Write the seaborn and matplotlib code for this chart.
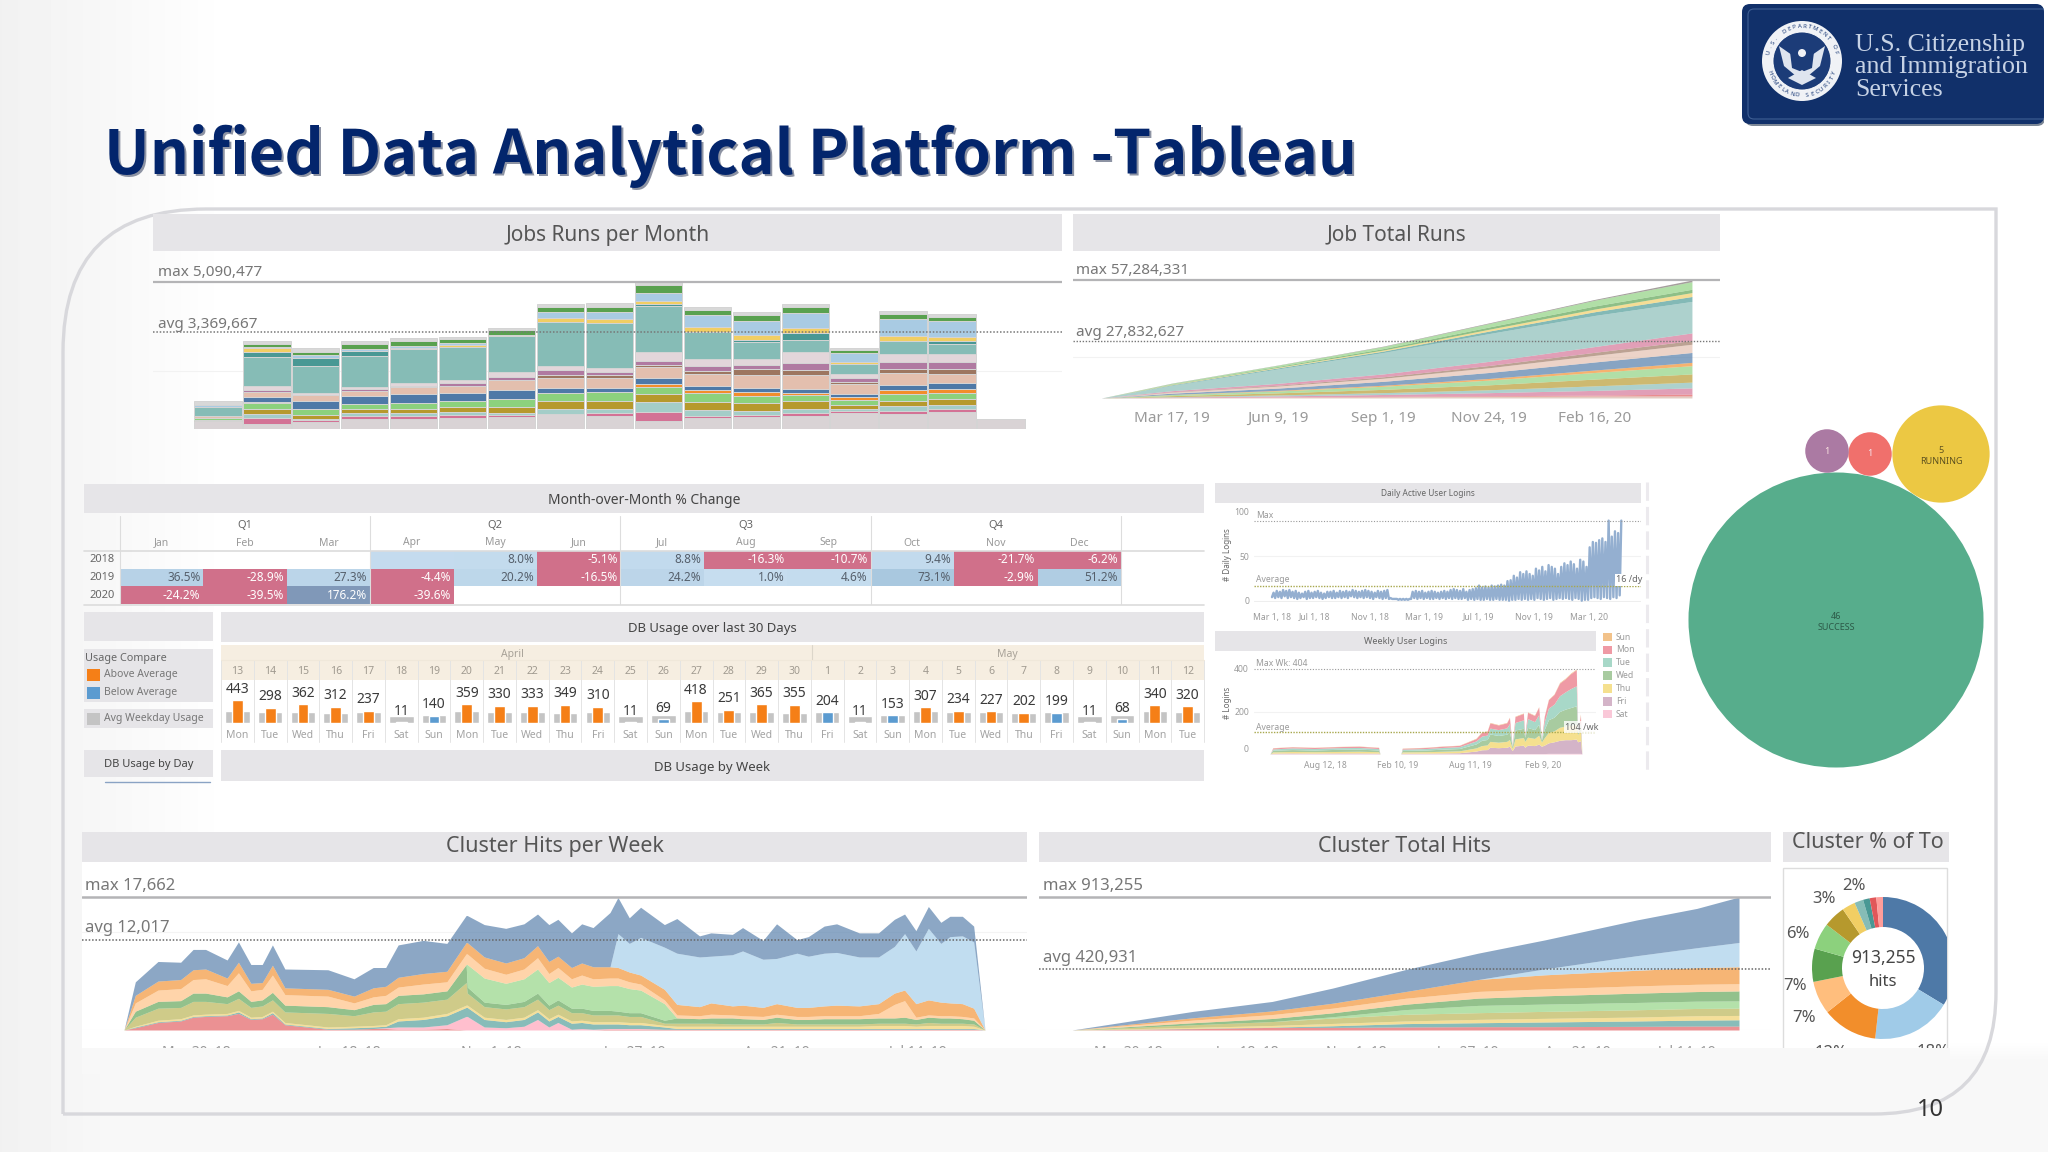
import numpy as np
import pandas as pd
import seaborn as sns
import matplotlib.pyplot as plt
from matplotlib.colors import LinearSegmentedColormap
from matplotlib.patches import Rectangle, FancyBboxPatch, Circle, PathPatch, Polygon
from matplotlib.path import Path

W, H = 2048, 1152

# ---- Jobs Runs per Month : one row per month, unit is about 11.7k runs
job_layers = ["base", "pink", "teal_l", "gold", "l_green", "orange", "blue", "peach", "brown",
              "purple", "pink_gray", "teal", "d_teal", "yellow", "l_blue", "green", "cap"]
job_rows = [
    [24, 0, 0, 4, 6, 0, 0, 6, 0, 0, 0, 24, 0, 0, 8, 0, 11],
    [16, 16, 12, 16, 16, 4, 16, 14, 0, 6, 12, 85, 16, 10, 4, 9, 9],
    [20, 6, 4, 12, 18, 0, 24, 16, 0, 0, 8, 80, 24, 0, 6, 10, 13],
    [30, 8, 8, 12, 16, 0, 24, 16, 0, 4, 8, 90, 16, 0, 6, 14, 9],
    [30, 8, 8, 14, 18, 0, 26, 20, 0, 4, 8, 100, 0, 4, 6, 16, 7],
    [34, 8, 8, 14, 20, 0, 22, 22, 0, 8, 8, 98, 0, 8, 6, 10, 7],
    [35, 8, 5, 16, 25, 0, 28, 28, 0, 10, 15, 105, 0, 4, 0, 14, 8],
    [45, 0, 14, 24, 25, 0, 14, 28, 10, 14, 14, 130, 0, 10, 20, 14, 8],
    [40, 6, 14, 24, 26, 0, 12, 30, 8, 10, 10, 135, 0, 12, 20, 15, 11],
    [25, 26, 28, 24, 22, 8, 18, 32, 8, 10, 28, 135, 6, 10, 22, 26, 8],
    [33, 6, 16, 26, 26, 8, 14, 34, 10, 14, 20, 80, 0, 16, 34, 16, 8],
    [35, 6, 12, 24, 22, 10, 14, 38, 16, 14, 16, 50, 8, 14, 42, 16, 9],
    [40, 8, 10, 24, 18, 6, 14, 40, 16, 20, 32, 35, 22, 14, 44, 18, 9],
    [48, 4, 8, 10, 16, 10, 8, 28, 6, 14, 10, 30, 0, 8, 24, 9, 8],
    [45, 8, 14, 16, 22, 10, 16, 36, 12, 20, 22, 40, 0, 14, 50, 16, 8],
    [50, 8, 12, 18, 18, 14, 16, 28, 14, 20, 23, 30, 10, 12, 48, 12, 8],
    [31, 0, 0, 0, 0, 0, 0, 0, 0, 0, 0, 0, 0, 0, 0, 0, 0],
]
job_colors = ["#d9d3d5", "#d37295", "#a4cdc8", "#b6992d", "#8cd17d", "#f28e2b", "#4e79a7", "#e3bfae", "#9d7660",
              "#b07aa1", "#e2d6da", "#86bcb6", "#499894", "#f1ce63", "#a9cbe3", "#59a14f", "#d8d8d8"]
JOB_UNIT = 5090477 / 436

# ---- Job Total Runs : weeks since Mar 17 2019, values in million runs
total_weeks = [-8, 0, 12, 24, 36, 48, 59]
total_tick_weeks = [0, 12, 24, 36, 48]
total_tick_labels = ["Mar 17, 19", "Jun 9, 19", "Sep 1, 19", "Nov 24, 19", "Feb 16, 20"]
total_layers = [
    [0, .2, .4, .6, .8, 1.0, 1.0],
    [0, .05, .1, .2, .3, .4, .9],
    [0, .2, .5, .9, 1.5, 2.3, 3.0],
    [0, .2, .5, .9, 1.4, 2.2, 2.8],
    [0, .5, 1, 1.6, 2.4, 3.3, 4.0],
    [0, .5, .9, 1.5, 2.3, 3.2, 4.0],
    [0, .1, .3, .5, .8, 1.2, 1.6],
    [0, .6, 1.1, 1.9, 2.9, 3.9, 4.8],
    [0, .5, 1, 1.5, 2.3, 3.2, 4.0],
    [0, .2, .4, .7, 1.1, 1.5, 1.8],
    [0, .5, .9, 1.4, 2, 2.8, 3.7],
    [0, 2.6, 7.0, 10.4, 13.5, 15.1, 15.28],
    [0, .3, .5, .7, 1.2, 1.8, 2.4],
    [0, .2, .3, .5, .9, 1.3, 1.9],
    [0, .2, .4, .7, 1.1, 1.5, 1.6],
    [0, .3, .6, 1, 1.7, 2.8, 3.7],
    [0, .1, .1, .2, .3, .4, .8],
]
total_colors = ["#d7b5a6", "#e15759", "#d37295", "#86bcb6", "#b6992d", "#8cd17d", "#f28e2b", "#4e79a7", "#e3bfae",
                "#9d7660", "#d37295", "#86bcb6", "#499894", "#f1ce63", "#59a14f", "#8cd17d", "#79706e"]

# ---- Month-over-Month % Change
mom_months = ["Jan", "Feb", "Mar", "Apr", "May", "Jun", "Jul", "Aug", "Sep", "Oct", "Nov", "Dec"]
mom_quarters = ["Q1", "Q2", "Q3", "Q4"]
mom_years = ["2018", "2019", "2020"]
mom_2018 = [np.nan, np.nan, np.nan, 5.0, 8.0, -5.1, 8.8, -16.3, -10.7, 9.4, -21.7, -6.2]
mom_2019 = [36.5, -28.9, 27.3, -4.4, 20.2, -16.5, 24.2, 1.0, 4.6, 73.1, -2.9, 51.2]
mom_2020 = [-24.2, -39.5, 176.2, -39.6] + [np.nan] * 8

# ---- DB Usage over last 30 Days
db_days = [13, 14, 15, 16, 17, 18, 19, 20, 21, 22, 23, 24, 25, 26, 27, 28, 29, 30,
           1, 2, 3, 4, 5, 6, 7, 8, 9, 10, 11, 12]
db_weekdays = ["Mon", "Tue", "Wed", "Thu", "Fri", "Sat", "Sun", "Mon", "Tue", "Wed", "Thu", "Fri", "Sat", "Sun", "Mon",
               "Tue", "Wed", "Thu", "Fri", "Sat", "Sun", "Mon", "Tue", "Wed", "Thu", "Fri", "Sat", "Sun", "Mon", "Tue"]
db_usage = [443, 298, 362, 312, 237, 11, 140, 359, 330, 333, 349, 310, 11, 69, 418, 251, 365, 355,
            204, 11, 153, 307, 234, 227, 202, 199, 11, 68, 340, 320]
db_weekday_avg = {"Mon": 230, "Tue": 215, "Wed": 215, "Thu": 200, "Fri": 215, "Sat": 130, "Sun": 155}

# ---- Daily Active User Logins : weekly highs and lows from Mar 2018
daily_high = [9, 11, 10, 12, 11, 12, 10, 11, 9, 8, 10, 11, 9, 10, 11, 9, 8, 10, 10, 11, 9, 11, 10, 11, 10, 12, 11, 10,
              11, 12, 11, 10, 9, 11, 10, 11, 12,
              3, 2, 2, 2, 2, 2, 2,
              10, 11, 10, 11, 9, 10, 11, 10, 9, 10, 11, 10, 12, 13, 12, 11, 13, 10, 12, 13,
              14, 17, 15, 16, 15, 17, 16, 17, 18, 17, 22,
              23, 28, 26, 32, 30, 33, 30, 28, 36, 34, 38, 33,
              40, 38, 36, 30, 38, 42, 40, 44, 41, 36, 46, 44, 38,
              60, 66, 65, 68, 70, 66, 90, 72, 78, 76, 90]
daily_low = [4, 3, 4, 3, 5, 3, 4, 3, 2, 3, 4, 2, 3, 3, 4, 3, 2, 3, 4, 3, 3, 4, 3, 4, 3, 5, 4, 3,
             4, 3, 4, 3, 2, 4, 3, 2, 3,
             2, 2, 2, 1, 1, 1, 1,
             2, 3, 2, 3, 2, 3, 2, 2, 3, 2, 3, 2, 3, 2, 3, 2, 2, 3, 1, 2,
             1, 2, 1, 1, 2, 1, 1, 2, 1, 1, 1,
             0, 1, 1, 2, 1, 2, 1, 2, 1, 3, 2, 1,
             2, 3, 1, 2, 3, 2, 3, 2, 1, 3, 2, 0, 1,
             1, 3, 4, 3, 2, 4, 3, 2, 4, 3, 6]
daily_ticks = [29, 122, 245, 365, 487, 610, 731]
daily_tick_labels = ["Mar 1, 18", "Jul 1, 18", "Nov 1, 18", "Mar 1, 19", "Jul 1, 19", "Nov 1, 19", "Mar 1, 20"]

# ---- Weekly User Logins : weeks from late Mar 2018
weekly_x = [0, 1, 8, 16, 24, 32, 39, 39.5, 47, 47.5, 56, 62, 68, 74, 76, 78, 79, 82, 85, 86, 87, 88, 91, 91.5,
            92.5, 95, 96.5, 97.5, 98.5, 100, 102, 104, 106, 108, 110, 110.5, 111.5, 112]
weekly_rows = [  # Sat Fri Thu Wed Tue Mon Sun
    [0, 0, 0, 0, 0, 0, 0], [1, 3, 6, 8, 6, 5, 1], [1, 4, 7, 9, 8, 5, 1], [1, 3, 7, 8, 7, 5, 1], [1, 4, 7, 10, 8, 5, 1],
    [1, 4, 8, 10, 8, 6, 1], [1, 3, 7, 8, 7, 5, 1], [0, 0, 0, 0, 0, 0, 0], [0, 0, 0, 0, 0, 0, 0], [1, 3, 6, 7, 6, 4, 1],
    [1, 3, 7, 8, 7, 5, 1], [1, 4, 8, 10, 8, 6, 1], [1, 5, 9, 11, 9, 6, 1], [2, 12, 15, 19, 14, 11, 2],
    [2, 18, 20, 25, 20, 18, 2], [2, 19, 22, 26, 21, 18, 2], [2, 30, 28, 35, 28, 25, 2], [2, 28, 26, 32, 28, 22, 2],
    [2, 30, 28, 34, 30, 24, 2], [2, 35, 32, 40, 35, 29, 2], [1, 15, 10, 8, 3, 2, 1], [2, 36, 34, 42, 36, 28, 2],
    [2, 40, 36, 44, 40, 31, 2], [2, 30, 28, 20, 6, 3, 1], [2, 40, 38, 46, 42, 30, 2], [2, 38, 34, 42, 38, 29, 2],
    [2, 45, 42, 52, 46, 36, 2], [2, 35, 20, 8, 3, 1, 1], [2, 40, 35, 40, 35, 26, 2], [3, 50, 50, 60, 55, 40, 2],
    [3, 55, 52, 65, 62, 46, 2], [3, 62, 62, 75, 75, 60, 3], [3, 65, 65, 80, 82, 62, 3], [3, 65, 68, 85, 90, 71, 3],
    [3, 68, 70, 88, 95, 77, 3], [3, 55, 35, 5, 1, 1, 0], [3, 60, 50, 25, 12, 35, 5], [0, 0, 0, 0, 0, 0, 0],
]
weekly_colors = ["#fac8d8", "#d4b4c8", "#f5e08f", "#a8cba0", "#a8d8c8", "#ef9aa5", "#f2c28a"]
weekly_legend = ["Sun", "Mon", "Tue", "Wed", "Thu", "Fri", "Sat"]
weekly_legend_colors = weekly_colors[::-1]
weekly_ticks = [20, 46, 72, 98]
weekly_tick_labels = ["Aug 12, 18", "Feb 10, 19", "Aug 11, 19", "Feb 9, 20"]

# ---- job status bubbles
bubble_count = [46, 5, 1, 1]
bubble_label = ["46\nSUCCESS", "5\nRUNNING", "1", "1"]
bubble_colors = ["#57ad8c", "#ecc843", "#f0706c", "#ab7aa3"]

# ---- Cluster Hits per Week : hundreds of hits
cluster_weeks = [0, 1, 3, 5, 6.1, 7.2, 9.1, 10.1, 11.2, 12.2, 13.1, 14.2, 18, 20.3, 22, 23.1, 24.2, 26.4, 28.5, 30.2, 30.3,
                 31.8, 33.7, 35.3, 36.5, 37.5, 38.3, 39.5, 40.4, 41.4, 42.9, 43.6, 44.6, 45.6, 47.7, 48.8, 50.8, 51.8, 53.7,
                 54.6, 56.4, 57.6, 59.4, 60.4, 61.8, 62.9, 64.9, 66.6, 68, 68.9, 69.9, 71, 72.1, 72.9, 74, 75, 76]
cluster_rows = [  # red pink teal yellow gold green l_green peach orange l_blue blue
    [0, 0, 0, 0, 0, 0, 0, 0, 0, 0, 0], [3, 0, 1, 1, 12, 8, 0, 11, 10, 0, 18], [10, 0, 1, 2, 16, 9, 0, 15, 12, 0, 26],
    [12, 0, 1, 2, 15, 9, 0, 16, 12, 0, 23], [17, 0, 1, 2, 18, 11, 0, 18, 13, 0, 27], [18, 0, 1, 2, 17, 11, 0, 19, 13, 0, 26],
    [19, 0, 1, 2, 13, 9, 0, 15, 10, 0, 24], [22, 0, 2, 2, 16, 10, 0, 24, 14, 0, 27], [14, 0, 1, 2, 13, 8, 0, 14, 10, 0, 25],
    [15, 0, 1, 2, 14, 8, 0, 14, 9, 0, 24], [21, 0, 2, 2, 15, 10, 0, 23, 13, 0, 27], [7, 0, 1, 2, 14, 9, 0, 14, 9, 0, 25],
    [1, 0, 1, 2, 18, 9, 0, 14, 9, 0, 26], [1, 0, 2, 2, 14, 8, 0, 9, 9, 0, 23], [2, 0, 2, 2, 18, 10, 0, 10, 12, 0, 27],
    [2, 1, 2, 2, 18, 10, 0, 11, 12, 0, 25], [1, 3, 8, 3, 20, 11, 0, 11, 13, 0, 43], [1, 3, 10, 3, 20, 11, 0, 13, 14, 0, 44],
    [2, 5, 12, 3, 19, 11, 0, 12, 14, 0, 37], [0, 18, 12, 3, 30, 24, 0, 14, 15, 0, 36], [0, 18, 12, 3, 16, 8, 30, 14, 15, 0, 36],
    [0, 4, 10, 3, 14, 6, 32, 13, 15, 0, 43],
    [0, 3, 8, 3, 14, 6, 28, 12, 15, 0, 46], [0, 5, 9, 3, 14, 7, 30, 13, 15, 0, 45], [0, 14, 10, 3, 14, 8, 32, 15, 16, 0, 42],
    [0, 4, 8, 3, 12, 6, 30, 12, 16, 0, 49], [0, 10, 8, 3, 12, 7, 30, 13, 15, 0, 49], [0, 1, 8, 3, 11, 6, 28, 11, 15, 0, 46],
    [0, 2, 8, 3, 10, 6, 32, 12, 16, 0, 52], [0, 1, 7, 3, 9, 6, 32, 10, 16, 0, 52], [1, 1, 6, 3, 9, 6, 33, 10, 15, 0, 72],
    [1, 1, 6, 3, 9, 5, 34, 10, 14, 45, 48],
    [1, 1, 5, 3, 8, 5, 32, 9, 13, 38, 34], [1, 1, 5, 3, 8, 5, 30, 8, 12, 50, 40], [1, 0, 3, 2, 3, 4, 22, 5, 14, 56, 30],
    [1, 0, 1, 3, 4, 7, 0, 4, 14, 68, 46], [1, 0, 1, 3, 4, 6, 0, 4, 12, 66, 28], [1, 0, 1, 3, 4, 7, 0, 5, 15, 62, 31],
    [1, 0, 1, 3, 3, 8, 0, 4, 12, 68, 27], [1, 0, 1, 3, 3, 7, 0, 4, 14, 72, 31], [1, 0, 1, 3, 3, 6, 0, 4, 12, 64, 25],
    [1, 0, 1, 3, 5, 7, 0, 4, 14, 60, 46], [1, 0, 1, 3, 3, 6, 0, 4, 12, 72, 18], [1, 0, 1, 3, 3, 6, 0, 4, 12, 68, 26],
    [1, 0, 1, 3, 3, 7, 0, 4, 13, 70, 36], [1, 0, 1, 3, 3, 7, 0, 4, 14, 70, 38], [1, 0, 1, 3, 3, 7, 0, 4, 13, 65, 32],
    [1, 0, 1, 4, 3, 7, 0, 6, 13, 62, 32], [1, 0, 1, 4, 3, 7, 0, 18, 15, 62, 36], [1, 0, 1, 4, 3, 8, 0, 22, 14, 75, 26],
    [1, 0, 1, 3, 3, 6, 0, 3, 18, 70, 27], [1, 0, 1, 4, 4, 7, 0, 3, 20, 95, 29], [1, 0, 1, 4, 3, 7, 0, 3, 18, 78, 28],
    [1, 0, 1, 4, 3, 7, 0, 3, 17, 88, 27], [1, 0, 1, 4, 3, 6, 0, 3, 17, 90, 26], [1, 0, 1, 3, 3, 5, 0, 3, 13, 88, 21],
    [0, 0, 0, 0, 0, 0, 0, 0, 0, 0, 0],
]
cluster_colors = ["#e15759", "#ff9db5", "#499894", "#f1ce63", "#b6b04a", "#59a14f", "#8cd17d", "#ffbe7d", "#f28e2b",
                  "#a0cbe8", "#4e79a7"]
cluster_tick_x = [6.4, 19.9, 32.4, 45.1, 57.6, 70]
cluster_tick_labels = ["Mar 30, 18", "Jun 18, 18", "Nov 1, 18", "Jan 27, 19", "Apr 21, 19", "Jul 14, 19"]

# ---- Cluster Total Hits : thousands of hits
cluster_total_weeks = [0, 13.8, 22.8, 29.7, 38, 46.3, 53.9, 64.3, 71.2, 76]
cluster_total_rows = [  # red teal yellow gold l_green green peach orange l_blue blue
    [0, 0, 0, 0, 0, 0, 0, 0, 0, 0], [9, 2, 7, 18, 0, 14, 18, 16, 0, 44], [18, 2, 11, 27, 0, 21, 27, 25, 0, 65],
    [18, 11, 16, 37, 9, 27, 32, 34, 0, 104], [21, 23, 18, 46, 32, 37, 41, 46, 0, 151], [23, 27, 23, 46, 50, 50, 46, 82, 0, 181],
    [23, 32, 25, 48, 50, 57, 48, 96, 41, 199], [25, 37, 27, 50, 50, 64, 50, 107, 100, 245], [27, 41, 30, 50, 50, 66, 50, 114, 137, 270],
    [27, 43, 30, 50, 50, 68, 50, 116, 167, 312.255],
]
cluster_total_colors = ["#e15759", "#499894", "#f1ce63", "#b6b04a", "#8cd17d", "#59a14f", "#ffbe7d", "#f28e2b", "#a0cbe8", "#4e79a7"]

# ---- Cluster % of Total
donut_share = [33.5, 18, 12.5, 7.5, 7.5, 6, 5, 3, 2, 1.5, 1.5, 1.5]
donut_colors = ["#4e79a7", "#a0cbe8", "#f28e2b", "#ffbe7d", "#59a14f", "#8cd17d", "#b6992d", "#f1ce63", "#86bcb6",
                "#499894", "#e15759", "#ff9d9a"]

BAND = "#e6e5e8"
TXT = "#555555"
TICK = "#9a9a9a"

sns.set_theme(style="white")
plt.rcParams["font.family"] = ["Noto Sans", "DejaVu Sans"]

fig = plt.figure(figsize=(W / 100, H / 100), dpi=100, facecolor="white")


def page_axes(zorder):
    ax = fig.add_axes([0, 0, 1, 1], zorder=zorder)
    ax.set_xlim(0, W)
    ax.set_ylim(H, 0)
    ax.axis("off")
    ax.patch.set_alpha(0)
    return ax


def add_ax(x0, y0, x1, y1, xcal, ycal):
    # box in page pixels, xcal / ycal = (pixel, value, pixel, value)
    ax = fig.add_axes([x0 / W, 1 - y1 / H, (x1 - x0) / W, (y1 - y0) / H], zorder=2)
    ax.patch.set_alpha(0)
    sx = (xcal[3] - xcal[1]) / (xcal[2] - xcal[0])
    sy = (ycal[3] - ycal[1]) / (ycal[2] - ycal[0])
    ax.set_xlim(xcal[1] + (x0 - xcal[0]) * sx, xcal[1] + (x1 - xcal[0]) * sx)
    ax.set_ylim(ycal[1] + (y1 - ycal[0]) * sy, ycal[1] + (y0 - ycal[0]) * sy)
    sns.despine(ax=ax, left=True, bottom=True)
    ax.set_xticks([])
    ax.set_yticks([])
    ax.grid(False)
    return ax


bg = page_axes(0)
top = page_axes(5)

# page background, slightly gray on the left and at the bottom
xx, yy = np.meshgrid(np.arange(W), np.arange(H))
shade = np.minimum(0.945 + 0.055 * np.clip(xx / 230, 0, 1), 1 - 0.03 * np.clip((yy - 1040) / 20, 0, 1))
bg.imshow(shade, cmap="gray", vmin=0, vmax=1, extent=(0, W, H, 0), aspect="auto", zorder=0)
bg.set_xlim(0, W)
bg.set_ylim(H, 0)

# rounded slide frame
frame = Path([(63, 1114), (63, 352), (63, 209), (206, 209), (1996, 209), (1996, 992), (1996, 1114), (1874, 1114), (63, 1114)],
             [Path.MOVETO, Path.LINETO, Path.CURVE3, Path.CURVE3, Path.LINETO, Path.LINETO, Path.CURVE3, Path.CURVE3, Path.LINETO])
bg.add_patch(PathPatch(frame, fc="none", ec="#d8d8dc", lw=2.4, zorder=1))


def band(x0, y0, x1, y1, text=None, size=15, cx=None, weight="normal", color=TXT, dy=0):
    bg.add_patch(Rectangle((x0, y0), x1 - x0, y1 - y0, fc=BAND, ec="none", zorder=3))
    if text:
        top.text((x0 + x1) / 2 if cx is None else cx, (y0 + y1) / 2 + dy, text, ha="center", va="center_baseline",
                 fontsize=size, color=color, fontweight=weight)


def white(x0, y0, x1, y1):
    bg.add_patch(Rectangle((x0, y0), x1 - x0, y1 - y0, fc="white", ec="none", zorder=2))


def put(x, y, s, size=11, color="#777777", ha="left", va="center", **kw):
    return top.text(x, y, s, fontsize=size, color=color, ha=ha, va=va, **kw)


# title and logo
for dx, col in ((2.5, "#8d93a3"), (0, "#03256c")):
    top.text(104 + dx, 156 + dx, "Unified Data Analytical Platform -Tableau", fontsize=44, fontweight="bold",
             color=col, ha="left", va="center", family=["Noto Sans CJK JP", "DejaVu Sans"])

top.add_patch(FancyBboxPatch((1745, 8), 300, 118, boxstyle="round,pad=0,rounding_size=8", fc="#7c8796", ec="none", zorder=1))
top.add_patch(FancyBboxPatch((1742, 4), 302, 120, boxstyle="round,pad=0,rounding_size=8", fc="#11306a", ec="none", zorder=1))
top.add_patch(FancyBboxPatch((1748, 9), 300, 110, boxstyle="round,pad=0,rounding_size=6", fc="none", ec="#3f5f94", lw=.8, zorder=1))
top.add_patch(Rectangle((2044, 0), 4, 130, fc="white", ec="none", zorder=1.5))
seal_x, seal_y = 1802, 61
top.add_patch(Circle((seal_x, seal_y), 40, fc="#f0f2f6", ec="none", zorder=2))
top.add_patch(Circle((seal_x, seal_y), 29, fc="#1c3c78", ec="#ffffff", lw=.6, zorder=2.1))
top.add_patch(Polygon([(1779, 46), (1802, 62), (1825, 46), (1820, 66), (1808, 76), (1796, 76), (1784, 66)], fc="#dfe5ef", ec="none", zorder=2.2))
top.add_patch(Polygon([(1790, 52), (1814, 52), (1812, 68), (1802, 72), (1792, 68)], fc="#1c3c78", ec="none", zorder=2.3))
top.add_patch(Circle((seal_x, 53), 4, fc="#f0f2f6", ec="none", zorder=2.4))
top.add_patch(Polygon([(1788, 78), (1802, 70), (1816, 78), (1802, 85)], fc="#dfe5ef", ec="none", zorder=2.3))
for word, a0, a1, flip in (("U.S. DEPARTMENT OF", 165, 15, False), ("HOMELAND SECURITY", 200, 340, True)):
    for c, a in zip(word, np.linspace(a0, a1, len(word))):
        r = np.radians(a)
        top.text(seal_x + 34.5 * np.cos(r), seal_y - 34.5 * np.sin(r), c, fontsize=4.4, fontweight="bold", color="#1c3c78",
                 ha="center", va="center", rotation=a + 90 if flip else a - 90, rotation_mode="anchor", zorder=2.5)
for i, line in enumerate(["U.S. Citizenship", "and Immigration", "Services"]):
    top.text(1855, 45 + i * 22.5, line, fontsize=18.6, color="#c6d2e5", ha="left", va="center", family="Liberation Serif")
put(1930, 1110, "10", size=17, color="#333333", ha="center")

# ---- Jobs Runs per Month
band(153, 214, 1062, 251, "Jobs Runs per Month", 15)
jobs = pd.DataFrame(job_rows, columns=job_layers)
jobs["month"] = np.arange(len(job_rows))
jobs = jobs.melt(id_vars="month", var_name="layer", value_name="runs")
ax = add_ax(153, 262, 1062, 429, (218.5, 0, 998, 16), (429, 0, 282, 5090477 / JOB_UNIT))
sns.histplot(data=jobs, x="month", weights="runs", hue="layer", hue_order=job_layers[::-1], multiple="stack", discrete=True,
             shrink=.97, palette=dict(zip(job_layers, job_colors)), edgecolor="#d4d4d4", linewidth=.7, alpha=1, legend=False, ax=ax)
ax.set_xlim(-1.325, 17.245)
ax.set_ylim(0, 436 * 167 / 147)
ax.set_xlabel("")
ax.set_ylabel("")
ax.axhline(2000000 / JOB_UNIT, color="#f2f2f2", lw=.8, zorder=0)
ax.axhline(5090477 / JOB_UNIT, color="#b4b4b6", lw=1.6)
ax.axhline(3369667 / JOB_UNIT, color="#777777", lw=1.1, ls=(0, (1, 1.2)))
put(158, 272, "max 5,090,477")
put(158, 324, "avg 3,369,667")

# ---- Job Total Runs
band(1073, 214, 1720, 251, "Job Total Runs", 15)
ax = add_ax(1073, 262, 1720, 398, (1172, 0, 1595, 48), (398, 0, 280, 57.284331))
ax.stackplot(total_weeks, np.array(total_layers), colors=total_colors, alpha=.68, lw=0)
ax.axhline(57.284331, color="#b4b4b6", lw=1.6)
ax.axhline(27.832627, color="#777777", lw=1, ls=(0, (1, 1.2)))
ax.axhline(20, color="#f2f2f2", lw=.8, zorder=0)
ax.set_xticks(total_tick_weeks, total_tick_labels, fontsize=11, color=TICK)
ax.tick_params(axis="x", length=0, pad=9)
put(1076, 270, "max 57,284,331")
put(1076, 332, "avg 27,832,627")

# ---- Month-over-Month % Change
band(84, 484, 1204, 513, "Month-over-Month % Change", 10, weight="semibold", color="#444444")
mom = np.array([mom_2018, mom_2019, mom_2020])
mom_labels = [["" if np.isnan(v) or (r == 0 and c == 3) else f"{v:.1f}%" for c, v in enumerate(row)] for r, row in enumerate(mom)]
cut = 40 / 216.2
mom_cmap = LinearSegmentedColormap.from_list("mom", [(0, "#d0708a"), (cut - .001, "#d0708a"), (cut, "#c6ddef"),
                                                     (cut + .24, "#b0cde3"), (cut + .34, "#a9c8df"), (1, "#8098b8")])
ax = add_ax(120, 551, 1121, 604, (120, 0, 1121, 12), (604, 3, 551, 0))
sns.heatmap(mom, cmap=mom_cmap, vmin=-40, vmax=176.2, annot=np.array(mom_labels), fmt="", cbar=False, xticklabels=False,
            yticklabels=False, annot_kws={"fontsize": 8.5}, ax=ax)
for t in ax.texts:
    col = int(t.get_position()[0])
    t.set_ha("right")
    t.set_x(col + .965)
    t.set_color("#ffffff" if t.get_text().startswith("-") or t.get_text().startswith("176") else "#56606c")
for i, q in enumerate(mom_quarters):
    put(120 + 83.4 * (3 * i + 1.5), 526, q, size=8, color="#666666", ha="center")
    top.plot([120 + 83.4 * 3 * i] * 2, [516, 604], color="#dddddd", lw=.8, zorder=1)
top.plot([1121, 1121], [516, 604], color="#dddddd", lw=.8, zorder=1)
for i, m in enumerate(mom_months):
    put(120 + 83.4 * (i + .5), 543, m, size=7.5, color="#999999", ha="center")
for i, y in enumerate(mom_years):
    put(89, 560 + i * 17.7, y, size=8, color="#666666")
top.plot([84, 1204], [551, 551], color="#dcdcdc", lw=1.2, zorder=1)
top.plot([84, 1204], [604.5, 604.5], color="#dcdcdc", lw=1.2, zorder=1)

# ---- DB Usage over last 30 Days
band(84, 612, 213, 641)
band(221, 612, 1204, 642, "DB Usage over last 30 Days", 9.5, weight="semibold", color="#444444")
band(84, 750, 213, 777, "DB Usage by Day", 8, weight="semibold", color="#444444")
band(221, 750, 1204, 781, "DB Usage by Week", 9.5, weight="semibold", color="#444444")
top.plot([105, 210], [781.5, 781.5], color="#8aa3c4", lw=1)
bg.add_patch(Rectangle((221, 645), 983, 35, fc="#f6eee1", ec="none", zorder=3))
band(84, 649, 213, 702)
band(84, 709, 213, 728)
put(85, 658, "Usage Compare", size=7.8, color="#666666")
bg.add_patch(Rectangle((87, 669), 12.5, 12, fc="#f57f17", ec="none", zorder=4))
bg.add_patch(Rectangle((87, 687), 12.5, 12, fc="#5b9bd0", ec="none", zorder=4))
bg.add_patch(Rectangle((87, 713), 12.5, 12, fc="#c4c4c4", ec="none", zorder=4))
put(104, 675, "Above Average", size=7.5, color="#777777")
put(104, 693, "Below Average", size=7.5, color="#777777")
put(104, 719, "Avg Weekday Usage", size=7.5, color="#777777")

db = pd.DataFrame({"pos": np.arange(30), "weekday": db_weekdays, "usage": db_usage})
db["avg"] = db["weekday"].map(db_weekday_avg)
db["status"] = np.where(db["usage"] > db["avg"], "Above Average", "Below Average")
ax = add_ax(221, 680, 1204, 723, (237.4, 0, 1187.6, 29), (723, 0, 700, 443))
ylim = ax.get_ylim()
sns.barplot(data=db, x="pos", y="avg", color="#c4c4c4", saturation=1, width=.75, ax=ax)
sns.barplot(data=db, x="pos", y="usage", hue="status", palette={"Above Average": "#f57f17", "Below Average": "#5b9bd0"},
            saturation=1, width=.33, dodge=False, legend=False, ax=ax)
ax.set_xlim(-.5, 29.5)
ax.set_ylim(ylim)
ax.set_xlabel("")
ax.set_ylabel("")
ax.set_xticks([])
ax.set_yticks([])
for i, v in enumerate(db_usage):
    ax.annotate(str(v), (i, v), xytext=(0, 2.5), textcoords="offset points", ha="center", va="bottom", fontsize=10,
                color="#3a3a3a", annotation_clip=False)
    x_mid = 221 + 32.77 * (i + .5)
    put(x_mid, 672, str(db_days[i]), size=7.5, color="#a09a90", ha="center")
    put(x_mid, 735, db_weekdays[i], size=7.5, color="#a3a3a3", ha="center")
    top.plot([221 + 32.77 * i] * 2, [660, 742], color="#e4e4e4", lw=.7, zorder=.5)
top.plot([1204, 1204], [660, 742], color="#e4e4e4", lw=.7, zorder=.5)
top.plot([811.5, 811.5], [645, 660], color="#dcd6ca", lw=.8)
top.plot([221, 1204], [660, 660], color="#f0e8da", lw=.8)
put(512, 654, "April", size=7.5, color="#a8a298", ha="center")
put(1007, 654, "May", size=7.5, color="#a8a298", ha="center")

# ---- Daily Active User Logins
band(1215, 483, 1641, 503, "Daily Active User Logins", 6, weight="semibold", color="#666666", cx=1428)
daily_x = [29 + 7 * w + d for w in range(len(daily_high)) for d in (0, 3.5)]
daily_y = [v for pair in zip(daily_low, daily_high) for v in pair]
ax = add_ax(1254, 505, 1641, 602, (1272, 29, 1589, 731), (600.7, 0, 511.7, 100))
ax.axhline(0, color="#eeeeee", lw=.8, zorder=0)
ax.axhline(50, color="#f2f2f2", lw=.8, zorder=0)
sns.lineplot(x=daily_x, y=daily_y, color="#94afd0", lw=1.7, ax=ax, estimator=None, sort=False)
ax.axhline(90, color="#9a9a9a", lw=.8, ls=(0, (1, 1.5)))
ax.axhline(16.5, color="#a8a84e", lw=1, ls=(0, (1, 1)))
ax.set_xticks(daily_ticks, daily_tick_labels, fontsize=6.2, color=TICK)
ax.set_yticks([0, 50, 100], ["0", "50", "100"], fontsize=6.2, color=TICK)
ax.tick_params(axis="both", length=0, pad=3.5)
ax.tick_params(axis="x", pad=8)
put(1256, 515, "Max", size=6.2, color=TICK)
put(1256, 580, "Average", size=6.2, color=TICK)
put(1616, 580, "16 /dy", size=6.5, color="#666666", fontweight="bold", bbox=dict(fc="white", ec="none", pad=.8))
put(1227, 555, "# Daily Logins", size=5.8, color="#666666", ha="center", rotation=90, fontweight="bold")

# ---- Weekly User Logins
band(1215, 631, 1596, 651, "Weekly User Logins", 6.5, weight="semibold", color="#666666", cx=1406)
ax = add_ax(1254, 652, 1596, 754, (1270, 0, 1581, 111.7), (754, 0, 669, 404))
ax.axhline(200, color="#f2f2f2", lw=.8, zorder=0)
ax.stackplot(weekly_x, np.array(weekly_rows).T, colors=weekly_colors, lw=0)
ax.axhline(404, color="#9a9a9a", lw=.8, ls=(0, (1, 1.5)))
ax.axhline(104, color="#a8a84e", lw=1, ls=(0, (1, 1)))
ax.set_xticks(weekly_ticks, weekly_tick_labels, fontsize=6.2, color=TICK)
ax.tick_params(axis="x", length=0, pad=5)
put(1249, 670, "400", size=6.2, color=TICK, ha="right")
put(1249, 712.7, "200", size=6.2, color=TICK, ha="right")
put(1249, 749, "0", size=6.2, color=TICK, ha="right")
put(1256, 663, "Max Wk: 404", size=6.2, color=TICK)
put(1256, 727, "Average", size=6.2, color=TICK)
put(1565, 727, "104 /wk", size=6.5, color="#666666", fontweight="bold", bbox=dict(fc="white", ec="none", pad=.8, alpha=.8))
put(1227, 703, "# Logins", size=5.8, color="#666666", ha="center", rotation=90, fontweight="bold")
for i, (d, c) in enumerate(zip(weekly_legend, weekly_legend_colors)):
    y = 637 + i * 12.85
    bg.add_patch(Rectangle((1603, y - 4.3), 9, 8.6, fc=c, ec="none", zorder=3))
    put(1616, y, d, size=6.2, color=TICK)
top.plot([1647, 1647], [482, 775], color="#eceaee", lw=2.2, ls=(0, (6, 2)), zorder=.5)

# ---- status bubbles, area follows the count
bubble_x = [1836, 1941, 1870, 1827]
bubble_y = [620, 454, 454, 451]
r_one = 21.75
sizes = [(2 * r_one * np.sqrt(c) * .72) ** 2 for c in bubble_count]
sns.scatterplot(x=bubble_x, y=bubble_y, hue=list(range(4)), palette=bubble_colors, s=sizes, linewidth=0, legend=False, ax=bg, zorder=4)
for x, y, s, c in zip(bubble_x, bubble_y, bubble_label, ["#2c5a48", "#5f5320", "#f6e4ee", "#fbe4e2"]):
    put(x, y + (2 if "\n" in s else 0), s, size=6.5, color=c, ha="center", linespacing=1.4)

# ---- Cluster Hits per Week
white(82, 862, 1950, 1048)
band(82, 832, 1027, 862, "Cluster Hits per Week", 15.5, dy=-3)
ax = add_ax(82, 868, 1027, 1030, (124, 0, 985, 76), (1030, 0, 897, 176.62))
ax.axhline(130, color="#f4f4f4", lw=.8, zorder=0)
ax.stackplot(cluster_weeks, np.array(cluster_rows).T, colors=cluster_colors, alpha=.65, lw=0)
ax.axhline(176.62, color="#b4b4b6", lw=1.8)
ax.axhline(120.17, color="#666666", lw=1.1, ls=(0, (1, 1.2)))
ax.axhline(0, color="#eeeeee", lw=.8, zorder=0)
ax.set_xticks(cluster_tick_x, cluster_tick_labels, fontsize=10, color=TICK)
ax.tick_params(axis="x", length=0, pad=11)
put(85, 886, "max 17,662", size=12)
put(85, 928, "avg 12,017", size=12)

# ---- Cluster Total Hits
band(1039, 832, 1771, 862, "Cluster Total Hits", 15.5, dy=-3)
ax = add_ax(1039, 868, 1771, 1030, (1072, 0, 1739, 76), (1030, 0, 897, 913.255))
ax.stackplot(cluster_total_weeks, np.array(cluster_total_rows).T, colors=cluster_total_colors, alpha=.65, lw=0)
ax.axhline(913.255, color="#b4b4b6", lw=1.8)
ax.axhline(420.931, color="#666666", lw=1.1, ls=(0, (1, 1.2)))
ax.axhline(0, color="#eeeeee", lw=.8, zorder=0)
ax.set_xticks(cluster_tick_x, cluster_tick_labels, fontsize=10, color=TICK)
ax.tick_params(axis="x", length=0, pad=11)
put(1043, 886, "max 913,255", size=12)
put(1043, 958, "avg 420,931", size=12)

# ---- Cluster % of Total, the panel cuts the donut on the right
band(1783, 832, 1949, 862)
put(1792, 843, "Cluster % of To", size=15.5, color=TXT)
bg.add_patch(Rectangle((1783, 868), 164, 181, fc="white", ec="#dddddd", lw=1, zorder=3))
ax = add_ax(1783, 868, 1947, 1048, (1783, 0, 1947, 164), (1048, 0, 868, 180))
wedges, _ = ax.pie(donut_share, colors=donut_colors, startangle=90, counterclock=False, center=(100, 80), radius=71, frame=True,
                   wedgeprops=dict(width=30, linewidth=0))
for w in wedges:
    w.set_clip_on(True)
    w.set_clip_path(ax.patch)
ax.set_xlim(0, 164)
ax.set_ylim(0, 180)
ax.set_xticks([])
ax.set_yticks([])
sns.despine(ax=ax, left=True, bottom=True)
for x, y, s in ((1854, 886, "2%"), (1824, 899, "3%"), (1798, 934, "6%"), (1795, 986, "7%"), (1804, 1018, "7%"),
                (1831, 1053, "12%"), (1933, 1052, "18%")):
    put(x, y, s, size=12, color="#555555", ha="center")
put(1883, 958, "913,255", size=12.5, color="#444444", ha="center")
put(1883, 982, "hits", size=12, color="#444444", ha="center")

# tick labels of the bottom row are cut at the edge of the panel
top.add_patch(Rectangle((82, 1048), 1868, 26, fc="#f8f8f8", ec="none", zorder=5))
top.add_patch(Rectangle((1949, 830), 10, 34, fc="white", ec="none", zorder=5))

fig.savefig("out.png", dpi=100)
